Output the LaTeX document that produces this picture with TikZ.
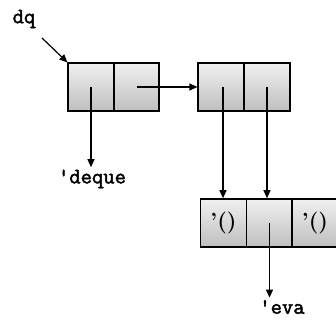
\documentclass[tikz,border=0pt]{standalone}
\usepackage{fontspec}
\setmonofont{Latin Modern Mono}[BoldFont={Latin Modern Mono}, BoldFeatures={FakeBold=2}]
\usetikzlibrary{arrows.meta}

\tikzset{
  cell/.style={rectangle, draw, line width=1.2pt, minimum width=46pt, minimum height=48pt,
    top color=gray!12, bottom color=gray!50, inner sep=0pt, font=\bfseries\fontsize{22}{22}\selectfont},
  ptr/.style={-{Triangle[length=8pt,width=7pt]}, line width=1.2pt},
  lbl/.style={font=\ttfamily\bfseries\fontsize{22}{22}\selectfont}
}

\begin{document}
\begin{tikzpicture}[x=1pt, y=-1pt]
  \useasboundingbox (0,0) rectangle (336,328);

  % Pairs
  \node (carA) at (91,87) [cell] {};
  \node (cdrA) at (136.5,87) [cell, minimum width=45pt] {};
  \node (carB) at (221,87) [cell] {};
  \node (cdrB) at (267,87) [cell] {};

  % Vector
  \node (vecA) at (223.5,223) [cell, line width=1.6pt] {'()};
  \node (vecB) at (269.5,223) [cell, line width=1.6pt] {};
  \node (vecC) at (315,223) [cell, line width=1.6pt] {'()};

  % Labels
  \node (dq) at (24,19) [lbl] {dq};
  \node (deque) at (92,179) [lbl] {'deque};
  \node (eva) at (282,307) [lbl] {'eva};

  % Pointers
  \coordinate (dqtail) at (42,38);
  \draw[ptr] (dqtail) -- (carA.north west);
  \draw[ptr] (carA.center) -- ([yshift=-1pt]carA.center |- deque.north);
  \draw[ptr] (cdrA.center) -- (carB.west);
  \draw[ptr] ([xshift=2pt]carB.center) -- ([xshift=2pt]carB.center |- vecA.north);
  \draw[ptr] (cdrB.center) -- (cdrB.center |- vecB.north);
  \draw[ptr] (vecB.center) -- ([yshift=-1pt]vecB.center |- eva.north);
\end{tikzpicture}
\end{document}
